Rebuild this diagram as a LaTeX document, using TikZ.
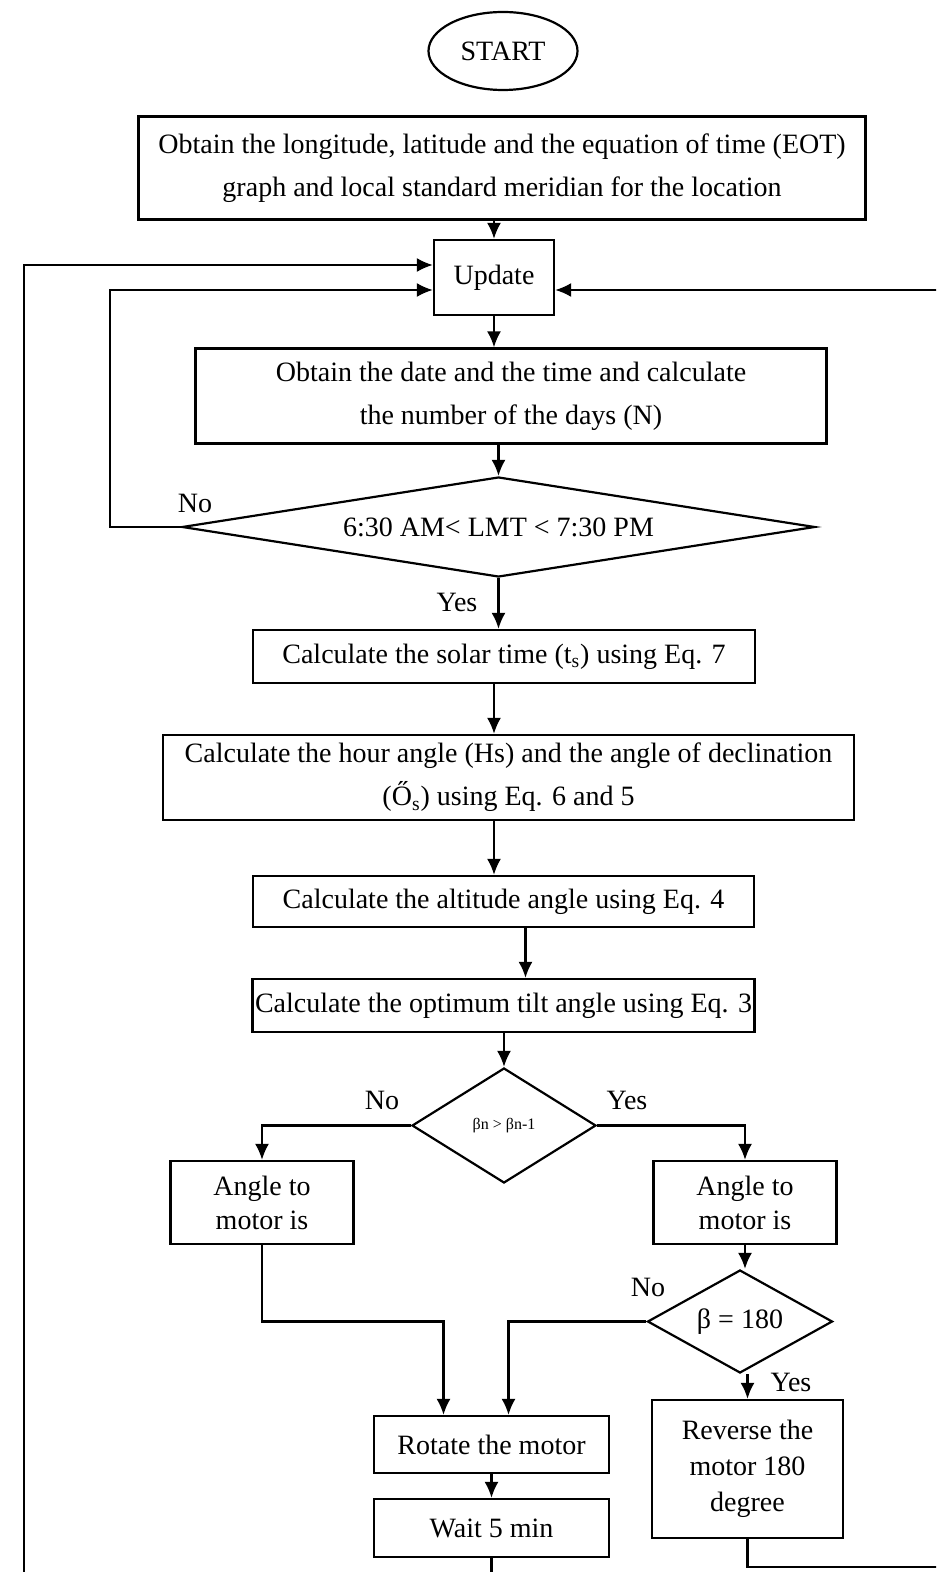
\documentclass[tikz,border=0pt]{standalone}
\usepackage{fontspec}
\setmainfont{Liberation Serif}
\usetikzlibrary{shapes.geometric,arrows.meta}
\begin{document}
\begin{tikzpicture}[x=0.5pt,y=-0.5pt,
    every node/.style={font=\fontsize{14}{21.5}\selectfont},
    box/.style={draw,line width=1.1pt,rectangle,align=center,inner sep=0pt},
    cond/.style={draw,line width=1.1pt,diamond,inner sep=0pt},
    flow/.style={line width=1.1pt,-{Latex[length=8pt,width=7pt]}}]
  \useasboundingbox (0,0) rectangle (936,1572);
  \clip (0,0) rectangle (936,1572);
  \draw
    (503,51) node[draw,line width=1.1pt,ellipse,minimum width=74.5pt,minimum height=39pt,inner sep=0pt] (start){START}
    (502,168) node[box,minimum width=363.5pt,minimum height=51.5pt] (obtain){Obtain the longitude, latitude and the equation of time (EOT)\\graph and local standard meridian for the location}
    (494,277.5) node[box,minimum width=60pt,minimum height=37.5pt] (update){Update}
    (511,396) node[box,minimum width=315.5pt,minimum height=47.5pt] (date){Obtain the date and the time and calculate\\the number of the days (N)}
    (498.5,527) node[cond,aspect=6.3,minimum width=316.5pt,minimum height=50pt] (dec1){6:30 AM< LMT < 7:30 PM}
    (504,656.5) node[box,minimum width=251pt,minimum height=26.5pt] (solar){Calculate the solar time (t\textsubscript{s}) using Eq. 7}
    (508.5,777.5) node[box,minimum width=345.5pt,minimum height=42.5pt] (hour){Calculate the hour angle (Hs) and the angle of declination\\(Ő\textsubscript{s}) using Eq. 6 and 5}
    (503.5,901.5) node[box,minimum width=250.5pt,minimum height=25.5pt] (alt){Calculate the altitude angle using Eq. 4}
    (503.5,1005.5) node[box,minimum width=251pt,minimum height=26.5pt] (tilt){Calculate the optimum tilt angle using Eq. 3}
    (504,1125.5) node[cond,aspect=1.6,minimum width=92pt,minimum height=57.5pt,font=\fontsize{8}{9}\selectfont] (dec2){βn > βn-1}
    (262,1202.5) node[box,minimum width=91.5pt,minimum height=41.5pt,font=\fontsize{14}{17}\selectfont] (angleL){Angle to\\motor is}
    (745,1202.5) node[box,minimum width=91.5pt,minimum height=41.5pt,font=\fontsize{14}{17}\selectfont] (angleR){Angle to\\motor is}
    (740,1321.5) node[cond,aspect=1.8,minimum width=92.5pt,minimum height=51.5pt] (dec3){β = 180}
    (491.5,1444.5) node[box,minimum width=117.5pt,minimum height=28.5pt] (rotate){Rotate the motor}
    (491.5,1528) node[box,minimum width=117.5pt,minimum height=29pt] (wait){Wait 5 min}
    (747.5,1469) node[box,minimum width=95.5pt,minimum height=69pt,font=\fontsize{14}{18}\selectfont] (revbox){Reverse the\\motor 180\\degree}
    (195,503) node (no1){No}
    (457,602) node (yes1){Yes}
    (382,1100) node (no2){No}
    (627,1100) node (yes2){Yes}
    (648,1287) node (no3){No}
    (791,1382) node (yes3){Yes};
  \coordinate (noloop) at (110,0);
  \coordinate (farleft) at (24,1600);
  \coordinate (farright) at (950,1567);
  \begin{scope}[flow]
    \draw (obtain.south -| update) -- (update);
    \draw (update) -- (update |- date.north);
    \draw (date.south -| dec1) -- (dec1);
    \draw (dec1.south) -- (dec1.south |- solar.north);
    \draw (update |- solar.south) -- (update |- hour.north);
    \draw (update |- hour.south) -- (update |- alt.north);
    \draw ([xshift=11pt]alt.south) -- ([xshift=11pt]alt.south |- tilt.north);
    \draw (tilt.south -| dec2) -- (dec2);
    \draw (dec2.west) -| (angleL);
    \draw (dec2.east) -| (angleR);
    \draw (angleR) -- (angleR |- dec3.north);
    \draw (angleL.south) -- (angleL.south |- dec3.west) -| ([xshift=-24pt]rotate.north);
    \draw (dec3.west) -| ([xshift=8.5pt]rotate.north);
    \draw (revbox |- dec3.south) -- (revbox);
    \draw (rotate) -- (wait);
    \draw (dec1.west) -- (dec1.west -| noloop) |- ([yshift=-6.25pt]update.west);
    \draw (wait) |- (farleft) |- ([yshift=6.25pt]update.west);
    \draw (revbox) |- (farright) |- ([yshift=-6.25pt]update.east);
  \end{scope}
\end{tikzpicture}
\end{document}
